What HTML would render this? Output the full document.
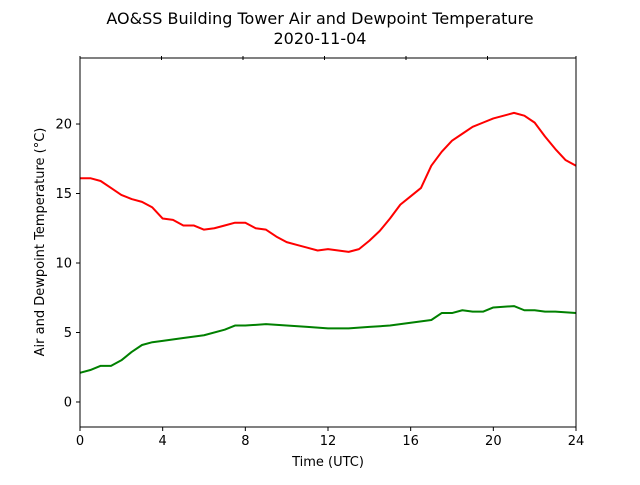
<!DOCTYPE html>
<html><head><meta charset="utf-8"><style>
body{margin:0;background:#fff;font-family:"Liberation Sans","DejaVu Sans",sans-serif}
svg text{font-family:"DejaVu Sans","Liberation Sans",sans-serif}
</style></head><body>
<svg id="chart" width="640" height="480" viewBox="0 0 640 480" xmlns="http://www.w3.org/2000/svg">
<rect width="640" height="480" fill="#fff"/>
<text x="320" y="24" text-anchor="middle" font-size="16">AO&amp;SS Building Tower Air and Dewpoint Temperature</text>
<text x="320" y="44" text-anchor="middle" font-size="16">2020-11-04</text>
<g id="plot"></g>
<text x="328" y="466" text-anchor="middle" font-size="13">Time (UTC)</text>
<text transform="translate(44,242) rotate(-90)" text-anchor="middle" font-size="13">Air and Dewpoint Temperature (°C)</text>
</svg>
<script>
const hours = [0,0.5,1,1.5,2,2.5,3,3.5,4,4.5,5,5.5,6,6.5,7,7.5,8,8.5,9,9.5,10,10.5,11,11.5,12,12.5,13,13.5,14,14.5,15,15.5,16,16.5,17,17.5,18,18.5,19,19.5,20,20.5,21,21.5,22,22.5,23,23.5,24];
const airTemp = [16.1,16.1,15.9,15.4,14.9,14.6,14.4,14.0,13.2,13.1,12.7,12.7,12.4,12.5,12.7,12.9,12.9,12.5,12.4,11.9,11.5,11.3,11.1,10.9,11.0,10.9,10.8,11.0,11.6,12.3,13.2,14.2,14.8,15.4,17.0,18.0,18.8,19.3,19.8,20.1,20.4,20.6,20.8,20.6,20.1,19.1,18.2,17.4,17.0];
const dewHours = [0,0.5,1,1.5,2,2.5,3,3.5,4,5,6,7,7.5,8,9,10,11,12,13,14,15,16,17,17.5,18,18.5,19,19.5,20,21,21.5,22,22.5,23,24];
const dewpoint = [2.1,2.3,2.6,2.6,3.0,3.6,4.1,4.3,4.4,4.6,4.8,5.2,5.5,5.5,5.6,5.5,5.4,5.3,5.3,5.4,5.5,5.7,5.9,6.4,6.4,6.6,6.5,6.5,6.8,6.9,6.6,6.6,6.5,6.5,6.4];
const xTicks = [0,4,8,12,16,20,24];
const yTicks = [0,5,10,15,20];
const X0=80,X1=576,Y0=58,Y1=427, xmin=0,xmax=24, ymin=-1.8,ymax=24.75;
const xs=v=>X0+(v-xmin)/(xmax-xmin)*(X1-X0);
const ys=v=>Y1-(v-ymin)/(ymax-ymin)*(Y1-Y0);
const NS="http://www.w3.org/2000/svg";
const g=document.getElementById('plot');
function mk(t,a){const e=document.createElementNS(NS,t);for(const k in a)e.setAttribute(k,a[k]);g.appendChild(e);return e;}
function series(xv,yv,color,name){
  const p=mk('polyline',{points:xv.map((x,i)=>xs(x)+','+ys(yv[i])).join(' '),fill:'none',stroke:color,'stroke-width':2,'stroke-linejoin':'round'});
  
  
}
series(hours,airTemp,'#ff0000','air-temperature-line');
series(dewHours,dewpoint,'#008000','dewpoint-line');
const frame=mk('rect',{x:X0,y:Y0,width:X1-X0,height:Y1-Y0,fill:'none',stroke:'#000','stroke-width':1});


xTicks.forEach(t=>{
  mk('line',{x1:xs(t),x2:xs(t),y1:Y1,y2:Y1+4,stroke:'#000'});
  const tx=mk('text',{x:xs(t),y:Y1+18,'text-anchor':'middle','font-size':13});
  tx.textContent=t;
  
  
});
yTicks.forEach(t=>{
  mk('line',{x1:X0-4,x2:X0,y1:ys(t),y2:ys(t),stroke:'#000'});
  const tx=mk('text',{x:X0-8,y:ys(t)+4.5,'text-anchor':'end','font-size':13});
  tx.textContent=t;
  
  
});
[0,1,2,3,4,5].forEach(k=>{const x=X0+81.5*k; mk('line',{x1:x,x2:x,y1:Y0-2,y2:Y0+2,stroke:'#000'});});
mk('line',{x1:X1,x2:X1,y1:Y0-2,y2:Y0+2,stroke:'#000'});
</script>
</body></html>
